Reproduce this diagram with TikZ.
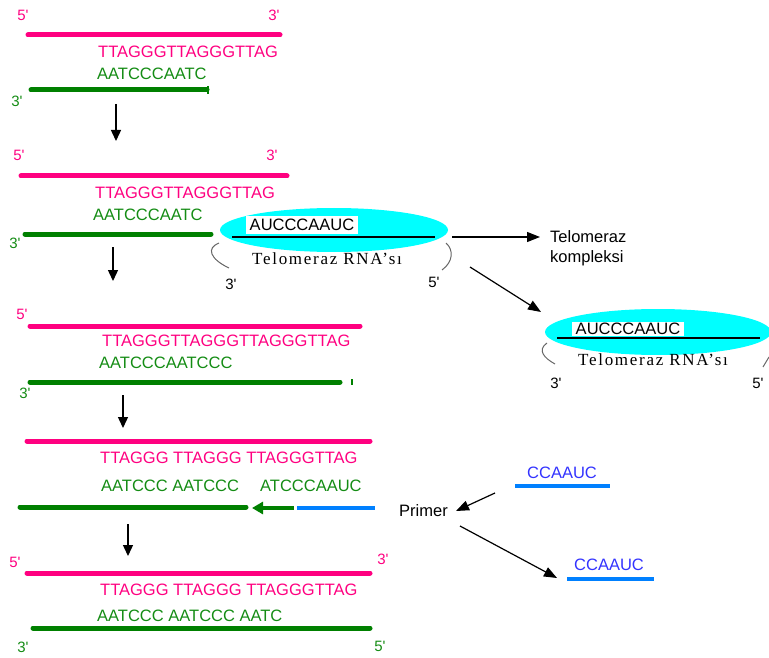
\documentclass[tikz,border=0pt]{standalone}
\usepackage{fontspec}
\setmainfont{Liberation Sans}
\newfontfamily\rnafont[LetterSpace=10]{Liberation Serif}
\usetikzlibrary{arrows.meta,shapes.geometric}
\definecolor{dnapink}{RGB}{255,0,128}
\definecolor{dnagreen}{RGB}{0,128,0}
\definecolor{txtgreen}{RGB}{20,140,20}
\definecolor{primerblue}{RGB}{0,128,255}
\definecolor{primertxt}{RGB}{51,51,255}
\definecolor{blobcyan}{RGB}{0,255,255}
\newcommand{\pr}{\textquotesingle}
\tikzset{
  seq/.style={anchor=west, inner sep=0, font=\fontsize{16.5}{18}\selectfont},
  pinkseq/.style={seq, text=dnapink},
  greenseq/.style={seq, text=txtgreen},
  blueseq/.style={seq, text=primertxt},
  endlbl/.style={inner sep=0, font=\fontsize{15}{17}\selectfont},
  pinkstrand/.style={draw=dnapink, line width=5pt, line cap=round},
  greenstrand/.style={draw=dnagreen, line width=5pt, line cap=round},
  bluestrand/.style={draw=primerblue, line width=4.5pt},
  stepdown/.style={-{Triangle[length=11pt,width=10pt]}, line width=1.4pt},
  ptr/.style={-{Triangle[length=13pt,width=10pt]}, line width=1.2pt},
  blob/.style={ellipse, fill=blobcyan, draw=none, inner sep=0},
  rnaseq/.style={fill=white, inner xsep=4pt, font=\fontsize{16.5}{18}\selectfont},
  rnaline/.style={line width=2pt},
  rnalbl/.style={anchor=west, inner sep=0, font=\rnafont\fontsize{17}{19}\selectfont},
  bracket/.style={draw=black!60, line width=1pt},
  tick/.style={draw=dnagreen, line width=1.4pt},
}
\begin{document}
\begin{tikzpicture}[x=1pt, y=-1pt]
\useasboundingbox (0,0) rectangle (769,658);
\clip (0,0) rectangle (769,658);

% ---------- Panel 1 ----------
\node[endlbl, text=dnapink] (p1a) at (23,15) {5\pr};
\node[endlbl, text=dnapink] (p1b) at (274,15) {3\pr};
\draw[pinkstrand] (28,35) -- (280,35);
\node[pinkseq] (p1top) at (98,52) {TTAGGGTTAGGGTTAG};
\node[greenseq] (p1bot) at (97,74) {AATCCCAATC};
\draw[greenstrand] (31,90) -- (207,90);
\draw[tick] (208,86) -- (208,94);
\node[endlbl, text=txtgreen] (p1c) at (17,101) {3\pr};
\coordinate (s1a) at (116,104);
\coordinate (s1b) at (116,141);
\draw[stepdown] (s1a) -- (s1b);

% ---------- Panel 2 ----------
\node[endlbl, text=dnapink] (p2a) at (19,155) {5\pr};
\node[endlbl, text=dnapink] (p2b) at (272,155) {3\pr};
\draw[pinkstrand] (21,176) -- (287,176);
\node[pinkseq] (p2top) at (95,193) {TTAGGGTTAGGGTTAG};
\node[greenseq] (p2bot) at (93,215) {AATCCCAATC};
\draw[greenstrand] (25,234) -- (211,234);
\node[endlbl, text=txtgreen] (p2c) at (15,243) {3\pr};
\coordinate (s2a) at (113,247);
\coordinate (s2b) at (113,281);
\draw[stepdown] (s2a) -- (s2b);

% telomerase complex 1
\node[blob, minimum width=228pt, minimum height=44pt] (cplx1) at (334,230) {};
\node[rnaseq, inner ysep=3pt] (rna1) at (302,225) {AUCCCAAUC};
\draw[rnaline] (232,237) -- (435,237);
\node[rnalbl] (rna1lbl) at (252,259) {Telomeraz RNA’sı};
\draw[bracket] (219,243) .. controls (206,248) and (210,259) .. (229,268);
\draw[bracket] (446,243) .. controls (454,250) and (453,262) .. (442,270);
\node[endlbl] (rna1a) at (231,284) {3\pr};
\node[endlbl] (rna1b) at (434,282) {5\pr};

\node[anchor=west, inner sep=0, align=left, font=\fontsize{16.5}{20}\selectfont] (kompl) at (550,248) {Telomeraz\\kompleksi};
\coordinate (k1) at (452,237);
\draw[ptr, shorten >=10pt] (k1) -- (k1 -| kompl.west);

% telomerase complex 2
\node[blob, minimum width=226pt, minimum height=46pt] (cplx2) at (658,332) {};
\node[rnaseq, inner ysep=1.5pt] (rna2) at (628,329) {AUCCCAAUC};
\draw[rnaline] (557,338) -- (760,338);
\node[rnalbl] (rna2lbl) at (578,360) {Telomeraz RNA’sı};
\draw[bracket] (547,343) .. controls (537,350) and (544,358) .. (555,364);
\draw[bracket] (763,367) -- (769,357);
\node[endlbl] (rna2a) at (556,383) {3\pr};
\node[endlbl] (rna2b) at (758,383) {5\pr};

\coordinate (d1a) at (470,267);
\coordinate (d1b) at (541,312);
\draw[ptr] (d1a) -- (d1b);

% ---------- Panel 3 ----------
\node[endlbl, text=dnapink] (p3a) at (22,314) {5\pr};
\draw[pinkstrand] (30,326) -- (360,326);
\node[pinkseq] (p3top) at (102,341) {TTAGGGTTAGGGTTAGGGTTAG};
\node[greenseq] (p3bot) at (99,363) {AATCCCAATCCC};
\draw[greenstrand] (30,382) -- (340,382);
\draw[tick] (352,379) -- (352,385);
\node[endlbl, text=txtgreen] (p3c) at (25,393) {3\pr};
\coordinate (s3a) at (123,395);
\coordinate (s3b) at (123,428);
\draw[stepdown] (s3a) -- (s3b);

% ---------- Panel 4 ----------
\draw[pinkstrand] (27,441) -- (370,441);
\node[pinkseq] (p4top) at (100,458) {TTAGGG TTAGGG TTAGGGTTAG};
\node[greenseq] (p4bot) at (101,486) {AATCCC AATCCC};
\node[greenseq] (p4new) at (260,486) {ATCCCAAUC};
\draw[greenstrand] (20,507) -- (246,507);
\coordinate (g1a) at (294,508);
\coordinate (g1b) at (252,508);
\draw[dnagreen, line width=3.5pt, -{Triangle[length=11pt,width=12pt]}] (g1a) -- (g1b);
\draw[bluestrand] (297,508) -- (375,508);
\coordinate (s4a) at (128,524);
\coordinate (s4b) at (128,556);
\draw[stepdown] (s4a) -- (s4b);

% primer
\node[seq] (primer) at (399,511) {Primer};
\node[blueseq] (cc1) at (527,473) {CCAAUC};
\draw[bluestrand] (515,486) -- (610,486);
\node[blueseq] (cc2) at (574,565) {CCAAUC};
\draw[bluestrand] (567,579) -- (654,579);
\coordinate (q1a) at (495,493);
\coordinate (q1b) at (456,511);
\draw[ptr] (q1a) -- (q1b);
\coordinate (q2a) at (460,526);
\coordinate (q2b) at (557,578);
\draw[ptr] (q2a) -- (q2b);

% ---------- Panel 5 ----------
\node[endlbl, text=dnapink] (p5a) at (15,562) {5\pr};
\node[endlbl, text=dnapink] (p5b) at (383,559) {3\pr};
\draw[pinkstrand] (27,573) -- (370,573);
\node[pinkseq] (p5top) at (100,590) {TTAGGG TTAGGG TTAGGGTTAG};
\node[greenseq] (p5bot) at (97,616) {AATCCC AATCCC AATC};
\draw[greenstrand] (33,628) -- (370,628);
\node[endlbl, text=txtgreen] (p5c) at (23,647) {3\pr};
\node[endlbl, text=txtgreen] (p5d) at (380,646) {5\pr};
\end{tikzpicture}
\end{document}
